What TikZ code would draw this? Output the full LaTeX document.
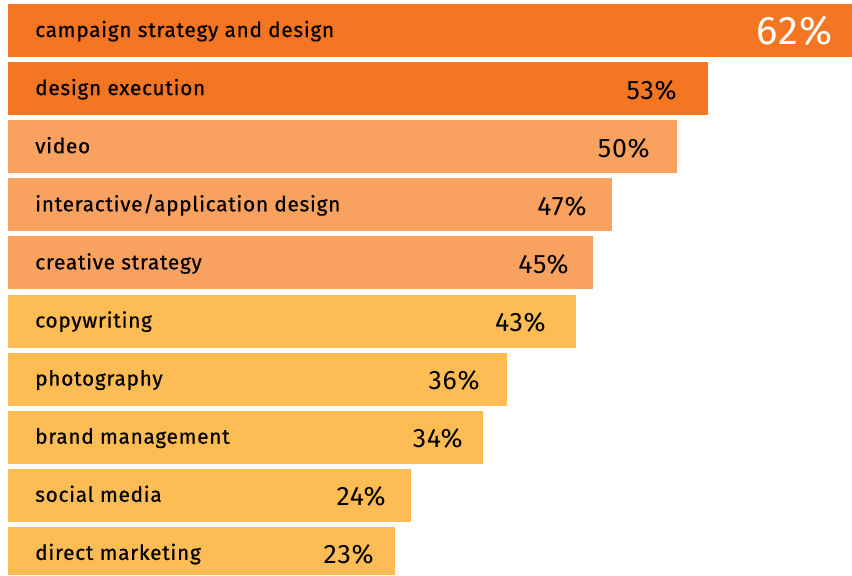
\documentclass[tikz,border=0pt]{standalone}
\usepackage{fontspec}
\setmainfont{Fira Sans}[LetterSpace=3]
\newfontfamily\labelfont{Fira Sans}[LetterSpace=3.5,FakeBold=0.6]
\usepackage{tikz}
\usetikzlibrary{calc}
\usepackage{xcolor}
\definecolor{darkorange}{HTML}{F47522}
\definecolor{midorange}{HTML}{F9A15E}
\definecolor{lightorange}{HTML}{FDBC54}
\tikzstyle{barlabel} = [anchor=base west,inner sep=0pt,font=\labelfont\fontsize{15.6}{15.6}\selectfont]
\tikzstyle{pctlabel} = [anchor=base east,inner sep=0pt,font=\fontsize{20}{20}\selectfont]

\begin{document}
\begin{tikzpicture}[x=0.75pt,y=-0.75pt]
\useasboundingbox (0,0) rectangle (852,575);

% first bar
\fill[darkorange] (8,4) rectangle (852,57);
\node[barlabel] (lab0) at (35,37) {campaign strategy and design};
\node[pctlabel,white,font=\fontsize{30}{30}\selectfont] (pct0) at (833,44) {62\%};

\foreach \i/\xr/\xp/\col/\txt/\pct in {
1/708/677/darkorange/design execution/53,
2/677/650/midorange/video/50,
3/612/587/midorange/interactive\slash application design/47,
4/593/569/midorange/creative strategy/45,
5/576/546/lightorange/copywriting/43,
6/507/480/lightorange/photography/36,
7/483/463/lightorange/brand management/34,
8/411/386/lightorange/social media/24,
9/395/374/lightorange/direct marketing/23} {

\pgfmathsetmacro\ytop{4+58.1*\i};
\pgfmathsetmacro\ybot{min(\ytop+53,575)};

\fill[\col] (8,\ytop) rectangle (\xr,\ybot);
\node[barlabel] (lab\i) at (35,\ytop+33) {\txt};
\node[pctlabel] (pct\i) at (\xp,\ytop+37) {\pct\%};
}
\end{tikzpicture}
\end{document}
